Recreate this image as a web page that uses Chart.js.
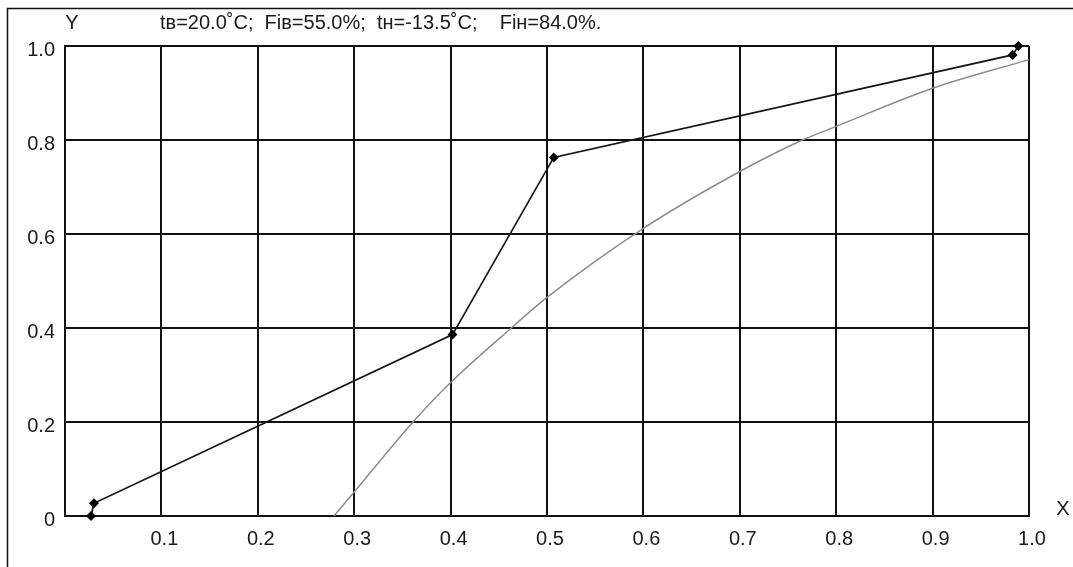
<!DOCTYPE html>
<html>
<head>
<meta charset="utf-8">
<script src="https://cdn.jsdelivr.net/npm/chart.js@4"></script>
<style>
  html, body { margin: 0; padding: 0; background: #fff; }
  #wrap { width: 1073px; height: 567px; }
</style>
</head>
<body>
<div id="wrap"><canvas id="myChart" width="1073" height="567"></canvas></div>
<script>
// donnees
let lineX = [0.027, 0.030, 0.402, 0.507, 0.983, 0.989];
let lineY = [0.0, 0.027, 0.386, 0.763, 0.981, 1.0];
let curveX = [0.279, 0.3, 0.361, 0.4, 0.463, 0.5, 0.6, 0.7, 0.765, 0.8, 0.9, 1.0];
let curveY = [0.0, 0.051, 0.2, 0.284, 0.4, 0.465, 0.612, 0.733, 0.8, 0.829, 0.91, 0.971];
let xTicks = [0, 0.1, 0.2, 0.3, 0.4, 0.5, 0.6, 0.7, 0.8, 0.9, 1.0];
let yTicks = [0, 0.2, 0.4, 0.6, 0.8, 1.0];
let titleText = "tв=20.0˚C;  Fiв=55.0%;  tн=-13.5˚C;    Fiн=84.0%.";

let font = "'Liberation Sans', Arial, sans-serif";

function points(xs, ys) {
  let pts = [];
  for (let i = 0; i < xs.length; i++) {
    pts.push({ x: xs[i], y: ys[i] });
  }
  return pts;
}

// cadre + textes
const extras = {
  id: "extras",
  beforeDraw(chart) {
    let ctx = chart.ctx;
    ctx.save();
    ctx.fillStyle = "#fff";
    ctx.fillRect(0, 0, chart.width, chart.height);
    ctx.strokeStyle = "#111";
    ctx.lineWidth = 1.5;
    ctx.beginPath();
    ctx.moveTo(7.5, chart.height);
    ctx.lineTo(7.5, 8.5);
    ctx.lineTo(chart.width, 8.5);
    ctx.stroke();
    ctx.restore();
  },
  afterDraw(chart) {
    let ctx = chart.ctx;
    ctx.save();
    ctx.fillStyle = "#1a1a1a";
    ctx.font = "20px " + font;
    ctx.textBaseline = "middle";
    ctx.textAlign = "left";
    ctx.fillText(titleText, 160, 23);
    ctx.textAlign = "center";
    ctx.fillText("Y", 72, 23);
    ctx.fillText("X", 1063, 509);
    ctx.restore();
  },
};

const ctx1 = document.getElementById("myChart").getContext("2d");
const myChart = new Chart(ctx1, {
  type: "scatter",
  data: {
    datasets: [
      {
        data: points(curveX, curveY),
        showLine: true,
        borderColor: "#8c8c8c",
        borderWidth: 1.5,
        pointRadius: 0,
        cubicInterpolationMode: "monotone",
        clip: false,
      },
      {
        data: points(lineX, lineY),
        showLine: true,
        borderColor: "#151515",
        borderWidth: 1.7,
        backgroundColor: "#000",
        pointStyle: "rectRot",
        pointRadius: 5,
        pointBorderWidth: 0,
        clip: false,
      },
    ],
  },
  plugins: [extras],
  options: {
    responsive: false,
    animation: false,
    events: [],
    layout: { padding: { left: 0, top: 46, right: 44, bottom: 0 } },
    plugins: { legend: { display: false }, tooltip: { enabled: false } },
    scales: {
      x: {
        type: "linear",
        min: 0,
        max: 1,
        afterBuildTicks(scale) {
          scale.ticks = xTicks.map((v) => ({ value: v }));
        },
        afterFit(scale) {
          scale.height = 51;
        },
        grid: { color: "#111", lineWidth: 2, drawTicks: false },
        border: { color: "#111", width: 2 },
        ticks: {
          padding: 11,
          labelOffset: 3,
          color: "#1a1a1a",
          font: { family: font, size: 20 },
          callback: (v) => (v === 0 ? "" : v.toFixed(1)),
        },
      },
      y: {
        type: "linear",
        min: 0,
        max: 1,
        afterBuildTicks(scale) {
          scale.ticks = yTicks.map((v) => ({ value: v }));
        },
        afterFit(scale) {
          scale.width = 65;
        },
        grid: { color: "#111", lineWidth: 2, drawTicks: false },
        border: { color: "#111", width: 2 },
        ticks: {
          padding: 10,
          labelOffset: 4,
          color: "#1a1a1a",
          font: { family: font, size: 20 },
          callback: (v) => (v === 0 ? "0" : v.toFixed(1)),
        },
      },
    },
  },
});
</script>
</body>
</html>
